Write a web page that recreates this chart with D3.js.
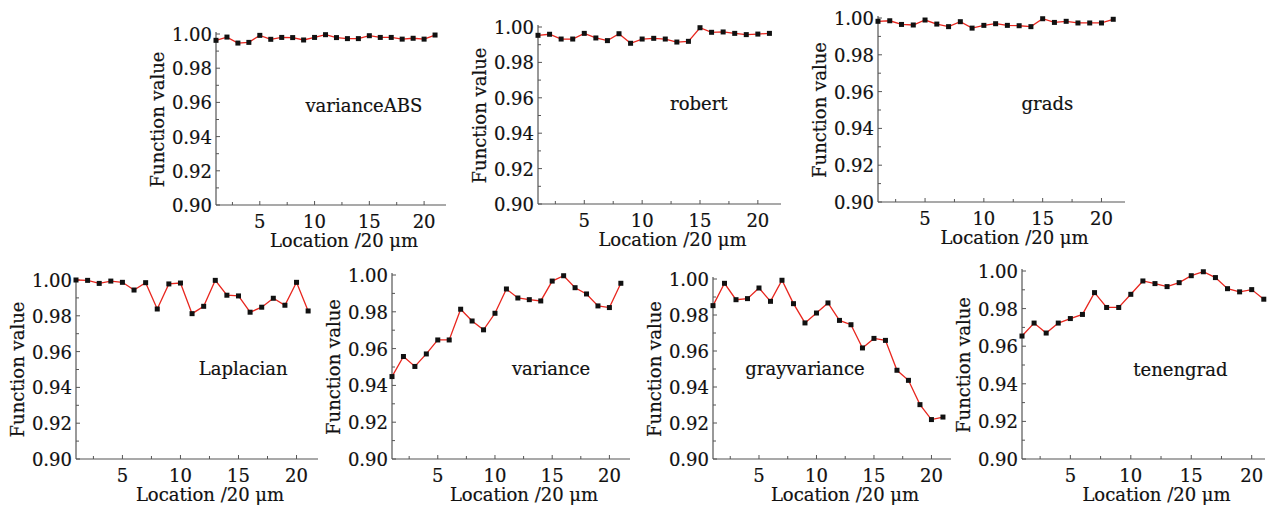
<!DOCTYPE html>
<html>
<head>
<meta charset="utf-8">
<script src="https://cdn.jsdelivr.net/npm/d3@7/dist/d3.min.js"></script>
<style>
  html, body { margin: 0; padding: 0; background: #fff; }
  svg { display: block; }
</style>
</head>
<body>
<div id="chart"></div>
<script>
// Focus function values at 21 positions (step 20 um)
const locations = d3.range(1, 22);

const varianceABS = [0.9963, 0.9982, 0.9947, 0.9951, 0.9992, 0.9969, 0.9980, 0.9979, 0.9965, 0.9980, 0.9996,
  0.9979, 0.9973, 0.9973, 0.9990, 0.9980, 0.9980, 0.9970, 0.9975, 0.9970, 0.9994];
const robert = [0.9953, 0.9959, 0.9932, 0.9932, 0.9964, 0.9938, 0.9923, 0.9962, 0.9908, 0.9932, 0.9936,
  0.9932, 0.9915, 0.9919, 0.9996, 0.9970, 0.9972, 0.9964, 0.9957, 0.9960, 0.9964];
const grads = [0.9982, 0.9985, 0.9965, 0.9962, 0.9989, 0.9967, 0.9953, 0.9980, 0.9945, 0.9960, 0.9969,
  0.9960, 0.9958, 0.9953, 0.9996, 0.9976, 0.9982, 0.9973, 0.9973, 0.9973, 0.9993];
const laplacian = [1.0000, 0.9998, 0.9981, 0.9994, 0.9987, 0.9944, 0.9985, 0.9838, 0.9978, 0.9983, 0.9812,
  0.9853, 0.9998, 0.9915, 0.9911, 0.9820, 0.9848, 0.9898, 0.9859, 0.9987, 0.9827];
const variance = [0.9448, 0.9557, 0.9503, 0.9571, 0.9647, 0.9647, 0.9814, 0.9750, 0.9702, 0.9792, 0.9924,
  0.9875, 0.9866, 0.9859, 0.9967, 0.9996, 0.9931, 0.9897, 0.9832, 0.9823, 0.9955];
const grayvariance = [0.9852, 0.9976, 0.9885, 0.9891, 0.9950, 0.9876, 0.9993, 0.9863, 0.9756, 0.9811, 0.9867,
  0.9770, 0.9746, 0.9617, 0.9670, 0.9659, 0.9493, 0.9437, 0.9302, 0.9219, 0.9233];
const tenengrad = [0.9654, 0.9723, 0.9670, 0.9723, 0.9747, 0.9769, 0.9885, 0.9806, 0.9806, 0.9876, 0.9947,
  0.9933, 0.9917, 0.9938, 0.9975, 0.9996, 0.9965, 0.9906, 0.9889, 0.9901, 0.9850];

const yTicks = [0.90, 0.92, 0.94, 0.96, 0.98, 1.00];
const xTicks = [5, 10, 15, 20];
const yLabel = "Function value";
const xLabel = "Location /20 \u03bcm";

// panel placement: left/right pixel of x axis, top = y of 1.00, bottom = y of 0.90
const panels = [
  { name: "varianceABS", values: varianceABS, left: 216, right: 446, top: 34, bottom: 205, xMax: 22, lx: 14.5, ly: 0.9585 },
  { name: "robert", values: robert, left: 538, right: 781, top: 27, bottom: 204, xMax: 22, lx: 14.9, ly: 0.957 },
  { name: "grads", values: grads, left: 878, right: 1125, top: 18, bottom: 202, xMax: 22, lx: 15.4, ly: 0.954 },
  { name: "Laplacian", values: laplacian, left: 76, right: 318, top: 280, bottom: 459, xMax: 21.85, lx: 15.4, ly: 0.951 },
  { name: "variance", values: variance, left: 392, right: 630, top: 275, bottom: 459, xMax: 21.8, lx: 14.9, ly: 0.9495 },
  { name: "grayvariance", values: grayvariance, left: 713, right: 951, top: 279, bottom: 459, xMax: 21.7, lx: 9, ly: 0.9506 },
  { name: "tenengrad", values: tenengrad, left: 1022, right: 1265, top: 271, bottom: 459, xMax: 21.1, lx: 14.1, ly: 0.948 }
];

const W = 1276, H = 505;
const FONT = "'DejaVu Serif', serif";
const svg = d3.select("#chart").append("svg")
  .attr("width", W)
  .attr("height", H)
  .attr("font-family", FONT);

const axisColor = "#555";

// serif text, slightly heavier like the scanned figure
function label(sel) {
  return sel.attr("font-size", 18)
    .attr("fill", "#111")
    .attr("stroke", "#111")
    .attr("stroke-width", 0.2);
}

panels.forEach(p => {
  const x = d3.scaleLinear().domain([1, p.xMax]).range([p.left, p.right]);
  const y = d3.scaleLinear().domain([0.90, 1.00]).range([p.bottom, p.top]);
  const g = svg.append("g");

  // axis lines
  g.append("line")
    .attr("x1", p.left).attr("x2", p.left)
    .attr("y1", y(1.00) - 2).attr("y2", p.bottom)
    .attr("stroke", axisColor).attr("stroke-width", 1.2);
  g.append("line")
    .attr("x1", p.left).attr("x2", p.right)
    .attr("y1", p.bottom).attr("y2", p.bottom)
    .attr("stroke", axisColor).attr("stroke-width", 1.2);

  // inward ticks: y every 0.01, x every 2.5
  const yMinor = d3.range(0, 11).map(i => 0.90 + i * 0.01);
  g.selectAll(".yt").data(yMinor).enter().append("line")
    .attr("x1", p.left).attr("x2", (d, i) => p.left + (i % 2 === 0 ? 4 : 3))
    .attr("y1", d => y(d)).attr("y2", d => y(d))
    .attr("stroke", axisColor).attr("stroke-width", 1);
  const xMinor = d3.range(1, 9).map(i => i * 2.5);
  g.selectAll(".xt").data(xMinor).enter().append("line")
    .attr("x1", d => x(d)).attr("x2", d => x(d))
    .attr("y1", p.bottom).attr("y2", (d, i) => p.bottom - (i % 2 === 1 ? 4 : 3))
    .attr("stroke", axisColor).attr("stroke-width", 1);

  // tick labels
  g.selectAll(".yl").data(yTicks).enter().append("text")
    .attr("x", p.left - 4)
    .attr("y", d => y(d) + 7)
    .attr("text-anchor", "end")
    .call(label)
    .text(d => d3.format(".2f")(d));
  g.selectAll(".xl").data(xTicks).enter().append("text")
    .attr("x", d => x(d))
    .attr("y", p.bottom + 23)
    .attr("text-anchor", "middle")
    .call(label)
    .text(d => d);

  // axis titles
  g.append("text")
    .attr("transform", `translate(${p.left - 52},${(p.top + p.bottom) / 2}) rotate(-90)`)
    .attr("text-anchor", "middle")
    .call(label)
    .text(yLabel);
  g.append("text")
    .attr("x", (p.left + p.right) / 2 + 13)
    .attr("y", p.bottom + 42)
    .attr("text-anchor", "middle")
    .call(label)
    .text(xLabel);

  // series
  const pts = locations.map((loc, i) => ({ loc, v: p.values[i] }));
  g.append("path")
    .datum(pts)
    .attr("fill", "none")
    .attr("stroke", "#e8261e")
    .attr("stroke-width", 1.3)
    .attr("d", d3.line().x(d => x(d.loc)).y(d => y(d.v)));
  g.selectAll(".pt").data(pts).enter().append("rect")
    .attr("x", d => x(d.loc) - 2.5)
    .attr("y", d => y(d.v) - 2.5)
    .attr("width", 5).attr("height", 5)
    .attr("fill", "#111");

  // method name
  g.append("text")
    .attr("x", x(p.lx))
    .attr("y", y(p.ly) + 7)
    .attr("text-anchor", "middle")
    .call(label)
    .text(p.name);
});
</script>
</body>
</html>
